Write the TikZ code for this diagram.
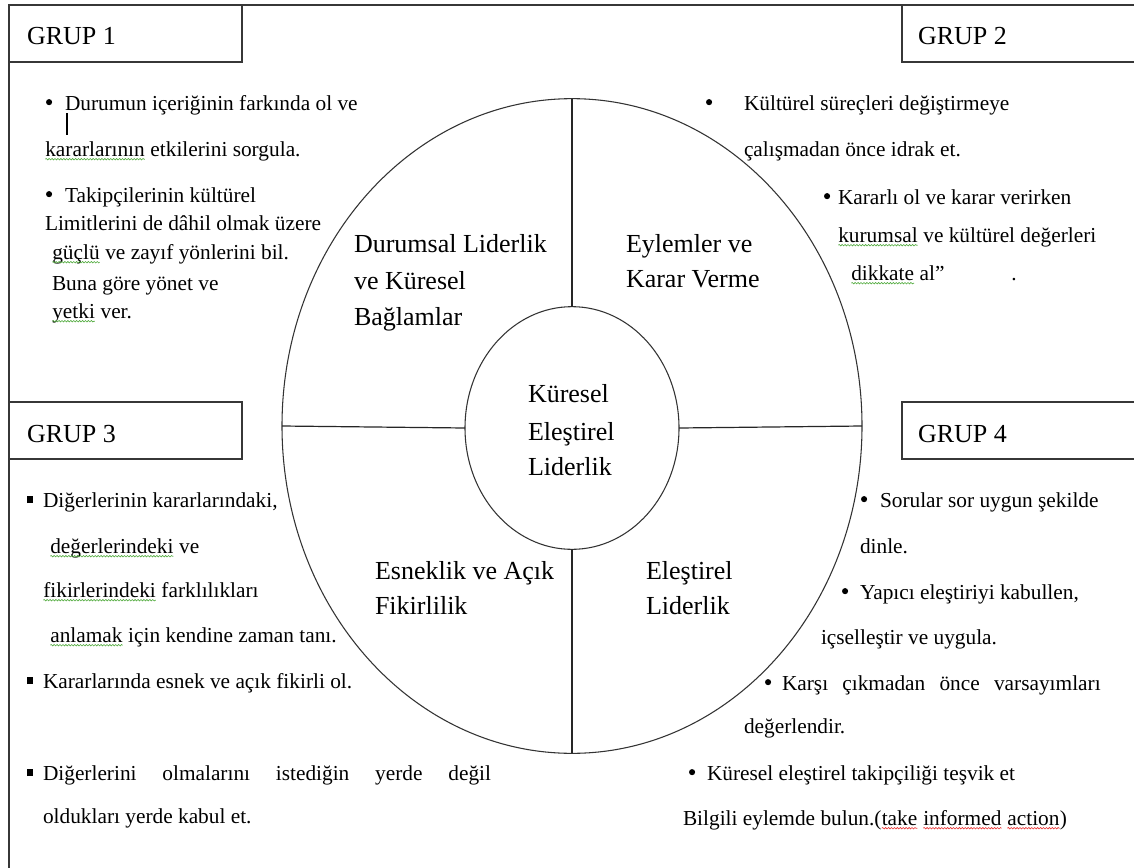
\documentclass[tikz,border=0pt]{standalone}
\usepackage{fontspec}
\setmainfont{Liberation Serif}
\usetikzlibrary{shapes.geometric,decorations.pathmorphing}
\definecolor{sqgreen}{RGB}{80,170,60}
\definecolor{sqred}{RGB}{235,50,50}
\definecolor{framecol}{RGB}{55,55,55}
\newcommand\sqw[2][sqgreen]{\tikz[baseline=(sqwn.base)]{\node[inner sep=0pt,outer sep=0pt,anchor=base] (sqwn) at (0,0) {#2};\draw[#1,line width=0.45pt,decorate,decoration={snake,amplitude=0.55pt,segment length=2.2pt}] ([yshift=-2.4pt]sqwn.base west) -- ([yshift=-2.4pt]sqwn.base east);}}
\newcommand\sqbul{\rule[3pt]{4.2pt}{5.4pt}}
\newcommand\rbul{\raisebox{3.6pt}{\tikz\fill[black] (0pt,0pt) circle (2.3pt);}}
\begin{document}
\begin{tikzpicture}[x=0.75pt,y=-0.75pt,
  txt/.style={anchor=base west,inner sep=0pt,outer sep=0pt,font=\fontsize{16}{19}\selectfont},
  lab/.style={anchor=base west,inner sep=0pt,outer sep=0pt,font=\fontsize{19.5}{23}\selectfont},
  frameline/.style={draw=framecol,line width=1.1pt},
  ring/.style={draw=black!80,line width=0.8pt,ellipse,inner sep=0pt,outer sep=0pt},
  spoke/.style={draw=black!85,line width=0.9pt}]
\useasboundingbox (0,0) rectangle (1134,867);
\fill[white] (0,0) rectangle (1134,867);
% outer frame (cut at the right and bottom edges)
\draw[frameline] (9,875) -- (9,5) -- (1145,5);
% group boxes
\draw[frameline] (9,5) rectangle (242,62);
\draw[frameline] (1145,5) -- (902,5) -- (902,62) -- (1145,62);
\draw[frameline] (9,402) rectangle (242,459);
\draw[frameline] (1145,402) -- (902,402) -- (902,459) -- (1145,459);
\node[lab] (grup1) at (27,45) {GRUP 1};
\node[lab] (grup2) at (918,45) {GRUP 2};
\node[lab] (grup3) at (27,442) {GRUP 3};
\node[lab] (grup4) at (918,442) {GRUP 4};
% wheel
\node[ring,minimum width=435pt,minimum height=491pt] (outer) at (572,426) {};
\node[ring,minimum width=160.5pt,minimum height=182pt] (inner) at (572,428) {};
\draw[spoke] (outer.north) -- (inner.north);
\draw[spoke] (inner.south) -- (outer.south);
\draw[spoke] (outer.west) -- (inner.west);
\draw[spoke] (inner.east) -- (outer.east);
% wheel labels
\node[lab] (q1a) at (354,252) {Durumsal Liderlik};
\node[lab] (q1b) at (354,289) {ve Küresel};
\node[lab] (q1c) at (354,325) {Bağlamlar};
\node[lab] (q2a) at (626,252) {Eylemler ve};
\node[lab] (q2b) at (626,287) {Karar Verme};
\node[lab] (c1) at (528,402) {Küresel};
\node[lab] (c2) at (528,440) {Eleştirel};
\node[lab] (c3) at (528,475) {Liderlik};
\node[lab] (q3a) at (375,579) {Esneklik ve Açık};
\node[lab] (q3b) at (375,614) {Fikirlilik};
\node[lab] (q4a) at (646,579) {Eleştirel};
\node[lab] (q4b) at (646,614) {Liderlik};
% GRUP 1 text
\node[txt] (a1) at (46,110) {\makebox[14.25pt][l]{\rbul}Durumun içeriğinin farkında ol ve};
\draw[line width=1.4pt] (67,113) -- (67,135);
\node[txt] (a2) at (45,156) {\sqw{kararlarının} etkilerini sorgula.};
\node[txt] (a3) at (46,202) {\makebox[14.25pt][l]{\rbul}Takipçilerinin kültürel};
\node[txt] (a4) at (45,230) {Limitlerini de dâhil olmak üzere};
\node[txt] (a5) at (52,259) {\sqw{güçlü} ve zayıf yönlerini bil.};
\node[txt] (a6) at (52,290) {Buna göre yönet ve};
\node[txt] (a7) at (52,318) {\sqw{yetki} ver.};
% GRUP 2 text
\node[txt] (b1) at (706,110) {\makebox[28.5pt][l]{\rbul}Kültürel süreçleri değiştirmeye};
\node[txt] (b2) at (744,156) {çalışmadan önce idrak et.};
\node[txt] (b3) at (824,204) {\makebox[10.5pt][l]{\rbul}Kararlı ol ve karar verirken};
\node[txt] (b4) at (838,242) {\sqw{kurumsal} ve kültürel değerleri};
\node[txt] (b5) at (851,280) {\sqw{dikkate} al”\hspace{50pt}.};
% GRUP 3 text
\node[txt] (d1) at (27,507) {\makebox[12pt][l]{\sqbul}Diğerlerinin kararlarındaki,};
\node[txt] (d2) at (50,553) {\sqw{değerlerindeki} ve};
\node[txt] (d3) at (43,597) {\sqw{fikirlerindeki} farklılıkları};
\node[txt] (d4) at (50,642) {\sqw{anlamak} için kendine zaman tanı.};
\node[txt] (d5) at (27,688) {\makebox[12pt][l]{\sqbul}Kararlarında esnek ve açık fikirli ol.};
\node[txt] (d6) at (27,780) {\makebox[12pt][l]{\sqbul}\makebox[336pt][s]{Diğerlerini olmalarını istediğin yerde değil}};
\node[txt] (d7) at (43,823) {oldukları yerde kabul et.};
% GRUP 4 text
\node[txt] (e1) at (861,507) {\makebox[14.25pt][l]{\rbul}Sorular sor uygun şekilde};
\node[txt] (e2) at (860,553) {dinle.};
\node[txt] (e3) at (842,599) {\makebox[13.5pt][l]{\rbul}Yapıcı eleştiriyi kabullen,};
\node[txt] (e4) at (821,644) {içselleştir ve uygula.};
\node[txt] (e5) at (765,690) {\makebox[12.75pt][l]{\rbul}\makebox[239pt][s]{Karşı çıkmadan önce varsayımları}};
\node[txt] (e6) at (744,733) {değerlendir.};
\node[txt] (e7) at (689,780) {\makebox[13.5pt][l]{\rbul}Küresel eleştirel takipçiliği teşvik et};
\node[txt] (e8) at (683,825) {Bilgili eylemde bulun.(\sqw[sqred]{take} \sqw[sqred]{informed} \sqw[sqred]{action})};
\end{tikzpicture}
\end{document}
